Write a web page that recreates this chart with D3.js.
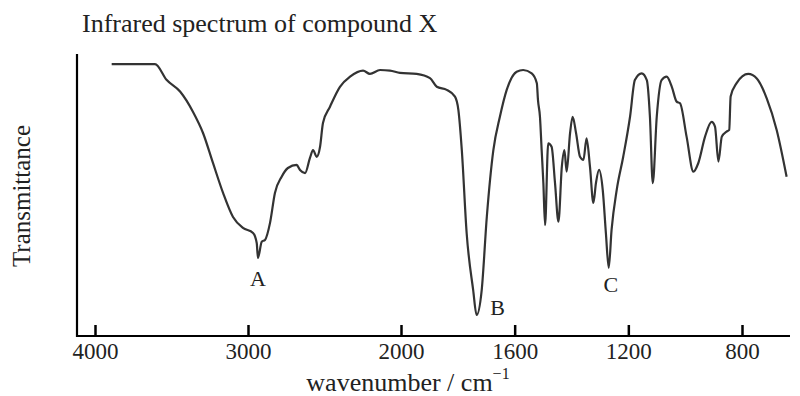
<!DOCTYPE html>
<html>
<head>
<meta charset="utf-8">
<script src="https://cdn.jsdelivr.net/npm/d3@7"></script>
<style>
  body { margin: 0; background: #fff; }
  text { font-family: "Liberation Serif", "Times New Roman", serif; fill: #222; }
</style>
</head>
<body>
<svg id="chart"></svg>
<script>
// wavenumber (cm-1) of each traced point, high to low
const wavenumbers = [3891, 3608, 3531, 3444, 3360, 3294, 3229, 3163, 3098, 3033,
  2967, 2943, 2935, 2910, 2889, 2856, 2824, 2780, 2739, 2682,
  2660, 2627, 2595, 2575, 2551, 2529, 2510, 2464, 2399, 2333,
  2248, 2203, 2137, 2072, 2007, 1945, 1898, 1874, 1839, 1810,
  1798, 1786, 1769, 1746, 1734, 1716, 1698, 1675, 1652, 1628,
  1593, 1570, 1540, 1522, 1518, 1511, 1505, 1499, 1493, 1482,
  1470, 1458, 1446, 1434, 1425, 1417, 1405, 1396, 1384, 1370,
  1358, 1347, 1335, 1323, 1314, 1303, 1290, 1279, 1269, 1259,
  1241, 1218, 1194, 1177, 1153, 1135, 1124, 1114, 1100, 1083,
  1065, 1047, 1030, 1018, 995, 971, 954, 930, 907, 895,
  883, 871, 854, 845, 840, 819, 778, 748, 713, 678, 643];

// transmittance (%) at each wavenumber above
const transmittance = [97.1, 97.1, 91.4, 87.3, 80.1, 72.5, 61.8, 51.1, 42.5, 38.6,
  36.8, 33.2, 27.9, 33.7, 34.3, 40.4, 51.1, 56.9, 60.0, 61.1,
  59.3, 58.2, 63.6, 66.4, 64.0, 67.6, 76.1, 81.9, 89.0, 92.6,
  94.8, 93.6, 95.0, 94.8, 94.0, 93.6, 92.1, 89.0, 87.9, 85.5,
  80.7, 66.4, 36.8, 16.4, 7.5, 16.4, 42.6, 66.4, 78.3, 87.9,
  94.4, 95.0, 93.8, 90.3, 84.3, 78.3, 66.4, 54.6, 39.6, 68.8,
  67.6, 54.6, 40.8, 60.5, 66.4, 58.7, 72.5, 78.3, 72.5, 64.0,
  62.9, 70.6, 60.5, 47.5, 54.6, 59.3, 52.1, 36.8, 24.3, 37.9,
  52.1, 64.0, 78.3, 91.4, 93.8, 91.4, 78.3, 54.6, 78.3, 91.4,
  92.6, 89.0, 83.7, 83.1, 71.2, 58.7, 61.7, 71.2, 76.5, 74.8,
  62.3, 71.2, 73.0, 73.6, 85.5, 90.3, 93.6, 92.0, 84.9, 73.6, 56.9];

const tickValues = [4000, 3000, 2000, 1600, 1200, 800];

// marked absorption bands
const peakNames = ['A', 'B', 'C'];
const peakWavenumbers = [2935, 1734, 1269];
const peakTransmittance = [27.9, 7.5, 24.3];

class SpectrumChart {

  constructor(_config) {
    this.config = {
      parentElement: _config.parentElement,
      containerWidth: _config.containerWidth || 800,
      containerHeight: _config.containerHeight || 396,
      frame: { left: 77, right: 790, top: 54, bottom: 336 }
    };
    this.data = wavenumbers.map((w, i) => ({ wn: w, t: transmittance[i] }));
    this.initVis();
  }

  initVis() {
    let vis = this;
    const f = vis.config.frame;

    vis.svg = d3.select(vis.config.parentElement)
      .attr('width', vis.config.containerWidth)
      .attr('height', vis.config.containerHeight);

    // the wavenumber axis changes scale at 2000 cm-1
    vis.xScale = d3.scaleLinear()
      .domain([4000, 2000, 800])
      .range([95, 401, 742]);

    vis.yScale = d3.scaleLinear()
      .domain([0, 100])
      .range([f.bottom, f.top + 2]);

    vis.xAxis = d3.axisBottom(vis.xScale)
      .tickValues(tickValues)
      .tickFormat(d3.format('d'))
      .tickSize(-11)
      .tickPadding(7);

    // frame lines
    vis.svg.append('line')
      .attr('x1', f.left).attr('x2', f.left)
      .attr('y1', f.top).attr('y2', f.bottom + 1)
      .attr('stroke', '#000').attr('stroke-width', 2.2);

    vis.svg.append('line')
      .attr('x1', f.left - 1).attr('x2', f.right)
      .attr('y1', f.bottom).attr('y2', f.bottom)
      .attr('stroke', '#000').attr('stroke-width', 2.2);

    vis.xAxisG = vis.svg.append('g')
      .attr('transform', `translate(0,${f.bottom})`);

    // titles
    vis.svg.append('text')
      .attr('x', 82).attr('y', 32)
      .attr('font-size', 26)
      .text('Infrared spectrum of compound X');

    vis.svg.append('text')
      .attr('transform', 'translate(30,196) rotate(-90)')
      .attr('text-anchor', 'middle')
      .attr('font-size', 25)
      .text('Transmittance');

    let xt = vis.svg.append('text')
      .attr('x', 408).attr('y', 391)
      .attr('text-anchor', 'middle')
      .attr('font-size', 26);
    xt.append('tspan').text('wavenumber / cm');
    xt.append('tspan').attr('dy', -12).attr('font-size', 16).text('\u22121');
  }

  renderVis() {
    let vis = this;

    let line = d3.line()
      .x(d => vis.xScale(d.wn))
      .y(d => vis.yScale(d.t))
      .curve(d3.curveMonotoneX);

    vis.svg.append('path')
      .datum(vis.data)
      .attr('fill', 'none')
      .attr('stroke', '#333')
      .attr('stroke-width', 2.2)
      .attr('stroke-linejoin', 'round')
      .attr('d', line);

    // peak labels, offset a little from the band minimum
    const offsets = [[0, 28], [21, 0], [2, 24]];
    vis.svg.selectAll('.peak')
      .data(peakNames)
      .join('text')
      .attr('class', 'peak')
      .attr('x', (d, i) => vis.xScale(peakWavenumbers[i]) + offsets[i][0])
      .attr('y', (d, i) => vis.yScale(peakTransmittance[i]) + offsets[i][1])
      .attr('text-anchor', 'middle')
      .attr('font-size', 22)
      .text(d => d);

    vis.xAxisG.call(vis.xAxis);
    vis.xAxisG.select('.domain').remove();
    vis.xAxisG.selectAll('.tick line')
      .attr('stroke', '#000')
      .attr('stroke-width', 2.5);
    vis.xAxisG.selectAll('.tick text')
      .attr('font-size', 23)
      .attr('font-family', '"Liberation Serif", serif')
      .attr('fill', '#222');
  }
}

let chart = new SpectrumChart({ parentElement: '#chart' });
chart.renderVis();
</script>
</body>
</html>
